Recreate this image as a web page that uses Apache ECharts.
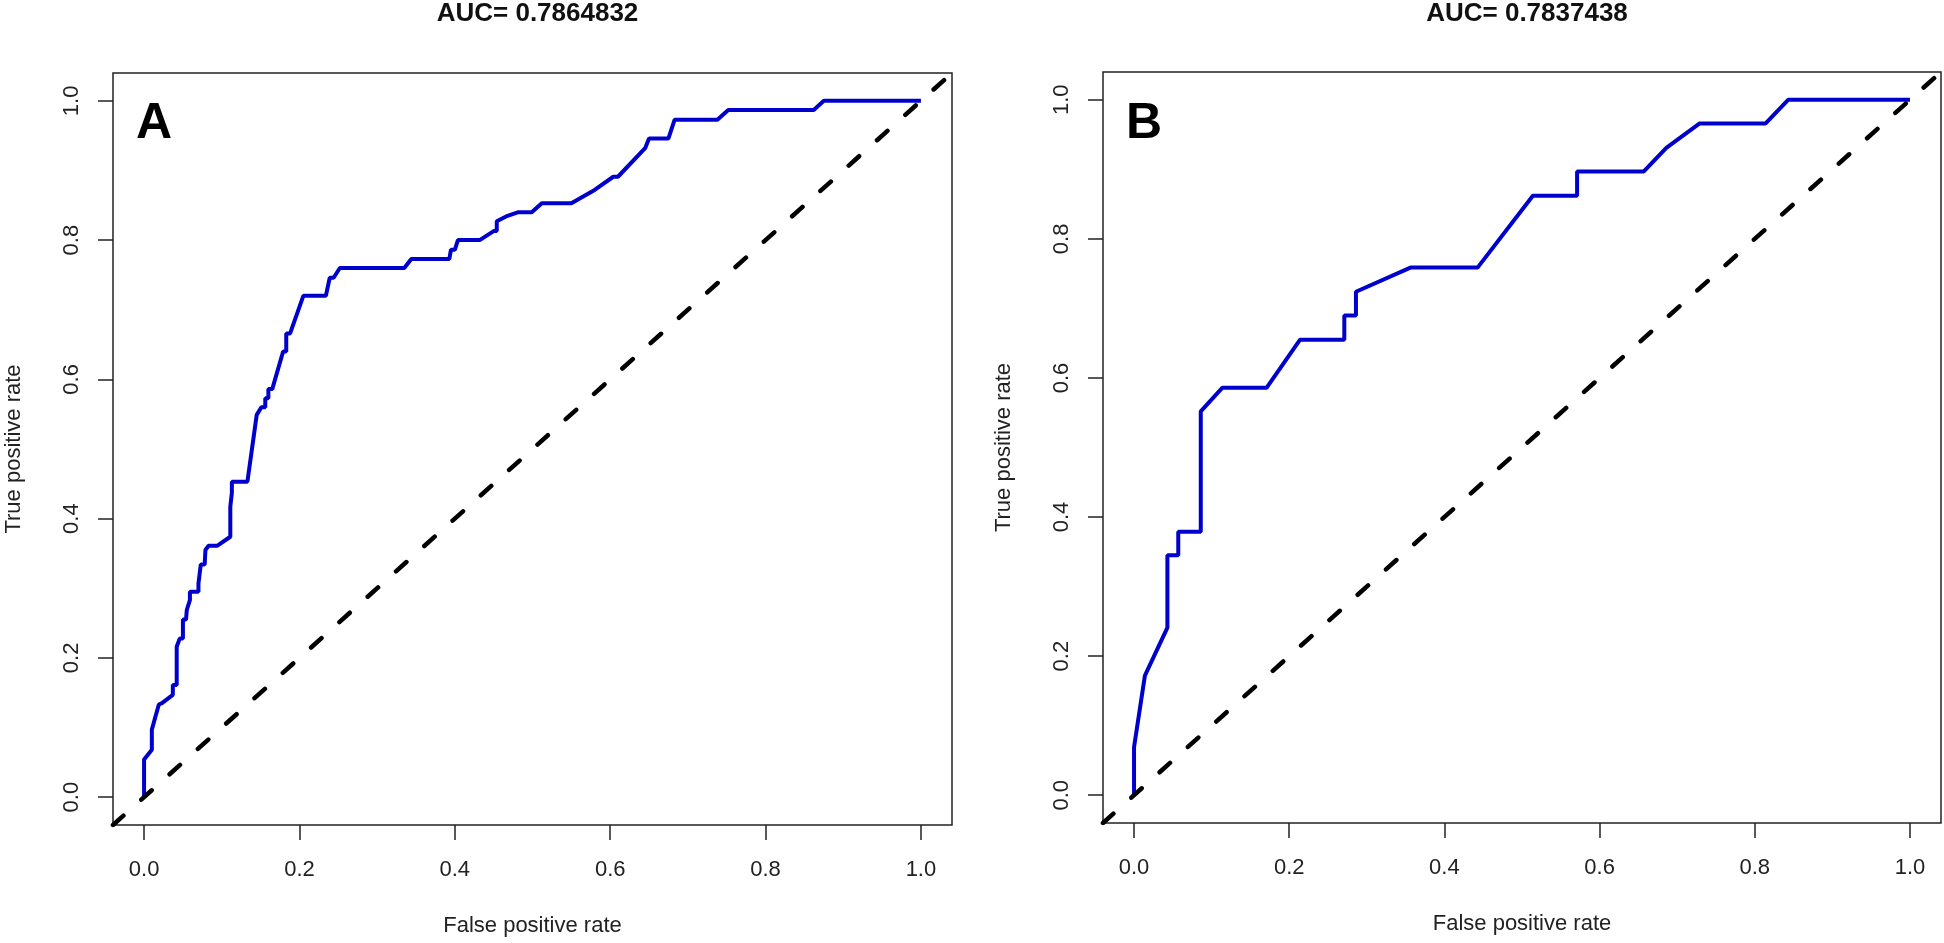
<!DOCTYPE html>
<html>
<head>
<meta charset="utf-8">
<title>ROC curves</title>
<script src="https://cdn.jsdelivr.net/npm/echarts@6/dist/echarts.min.js"></script>
<style>
    html, body { margin: 0; padding: 0; background: #fff; }
    #chart { width: 1944px; height: 943px; }
</style>
</head>
<body>
<div id="chart"></div>
<script>
// panel A: ROC points
var aFpr = [0, 0, 0.010, 0.010, 0.019, 0.023, 0.037, 0.037, 0.042, 0.042, 0.046, 0.050, 0.050, 0.054, 0.055, 0.059, 0.059, 0.070, 0.070, 0.073, 0.078, 0.079, 0.083, 0.094, 0.111, 0.111, 0.113, 0.113, 0.133, 0.145, 0.151, 0.156, 0.156, 0.160, 0.160, 0.165, 0.179, 0.183, 0.183, 0.188, 0.205, 0.234, 0.239, 0.244, 0.252, 0.335, 0.344, 0.393, 0.395, 0.400, 0.404, 0.432, 0.450, 0.454, 0.454, 0.466, 0.481, 0.499, 0.512, 0.550, 0.580, 0.604, 0.610, 0.645, 0.650, 0.675, 0.683, 0.738, 0.752, 0.862, 0.875, 1.0];
var aTpr = [0, 0.054, 0.068, 0.097, 0.133, 0.135, 0.147, 0.161, 0.161, 0.216, 0.228, 0.228, 0.255, 0.255, 0.269, 0.283, 0.295, 0.295, 0.307, 0.334, 0.334, 0.355, 0.361, 0.361, 0.374, 0.417, 0.437, 0.453, 0.453, 0.549, 0.560, 0.560, 0.573, 0.573, 0.586, 0.586, 0.640, 0.640, 0.666, 0.666, 0.720, 0.720, 0.746, 0.746, 0.760, 0.760, 0.773, 0.773, 0.786, 0.786, 0.800, 0.800, 0.813, 0.813, 0.827, 0.834, 0.840, 0.840, 0.853, 0.853, 0.872, 0.891, 0.891, 0.932, 0.946, 0.946, 0.973, 0.973, 0.987, 0.987, 1.0, 1.0];

// panel B
var bFpr = [0, 0, 0.014, 0.043, 0.043, 0.057, 0.057, 0.086, 0.086, 0.114, 0.171, 0.214, 0.271, 0.271, 0.286, 0.286, 0.357, 0.443, 0.514, 0.571, 0.571, 0.657, 0.686, 0.729, 0.814, 0.843, 1.0];
var bTpr = [0, 0.069, 0.172, 0.241, 0.345, 0.345, 0.379, 0.379, 0.552, 0.586, 0.586, 0.655, 0.655, 0.690, 0.690, 0.724, 0.759, 0.759, 0.862, 0.862, 0.897, 0.897, 0.931, 0.966, 0.966, 1.0, 1.0];

var tickValues = [0, 0.2, 0.4, 0.6, 0.8, 1.0];
var titles = ['AUC= 0.7864832', 'AUC= 0.7837438'];
var panelLetters = ['A', 'B'];
var xName = 'False positive rate';
var yName = 'True positive rate';

// R pads the range by 4% on each side
var axisMin = -0.04;
var axisMax = 1.04;

var chart = echarts.init(document.getElementById('chart'));

var font = "'Liberation Sans', Arial, Helvetica, sans-serif";
var ink = '#222';

function pairs(xs, ys) {
    var out = [];
    for (var i = 0; i < xs.length; i++) {
        out.push([xs[i], ys[i]]);
    }
    return out;
}

function makeAxis(idx, isX) {
    return {
        gridIndex: idx,
        type: 'value',
        min: axisMin,
        max: axisMax,
        axisLine: {show: false, onZero: false},
        splitLine: {show: false},
        axisTick: {
            show: true,
            length: 15,
            customValues: tickValues,
            lineStyle: {color: ink, width: 1.5}
        },
        axisLabel: {
            customValues: tickValues,
            formatter: function (v) { return v.toFixed(1); },
            fontFamily: font,
            fontSize: 22,
            color: ink,
            margin: isX ? 34 : 30,
            rotate: isX ? 0 : 90
        },
        name: isX ? xName : yName,
        nameLocation: 'middle',
        nameGap: isX ? 90 : 88,
        nameTextStyle: {fontFamily: font, fontSize: 22, color: ink}
    };
}

var grids = [
    {left: 113, top: 73, width: 839, height: 752},
    {left: 1103, top: 72, width: 838, height: 751}
];

var option = {
    animation: false,
    backgroundColor: '#fff',
    title: [],
    grid: [],
    xAxis: [],
    yAxis: [],
    series: []
};

var rocSets = [pairs(aFpr, aTpr), pairs(bFpr, bTpr)];

for (var p = 0; p < 2; p++) {
    var g = grids[p];
    option.grid.push({
        left: g.left, top: g.top, width: g.width, height: g.height,
        show: true, borderColor: ink, borderWidth: 1.5, backgroundColor: 'transparent'
    });
    option.xAxis.push(makeAxis(p, true));
    option.yAxis.push(makeAxis(p, false));

    option.title.push({
        text: titles[p],
        left: g.left + g.width / 2,
        top: -4,
        textAlign: 'center',
        textStyle: {fontFamily: font, fontSize: 26, fontWeight: 'bold', color: '#111'}
    });
    option.title.push({
        text: panelLetters[p],
        left: g.left + 18,
        top: 94,
        textStyle: {fontFamily: font, fontSize: 50, fontWeight: 'bold', color: '#000'}
    });

    option.series.push({
        name: 'ROC ' + panelLetters[p],
        type: 'line',
        xAxisIndex: p,
        yAxisIndex: p,
        data: rocSets[p],
        showSymbol: false,
        lineStyle: {color: '#0000CD', width: 4}
    });
    option.series.push({
        name: 'chance ' + panelLetters[p],
        type: 'line',
        xAxisIndex: p,
        yAxisIndex: p,
        data: [[axisMin, axisMin], [axisMax, axisMax]],
        showSymbol: false,
        lineStyle: {color: '#000', width: 4.5, type: [14, 24], cap: 'round'}
    });
}

chart.setOption(option);
</script>
</body>
</html>
